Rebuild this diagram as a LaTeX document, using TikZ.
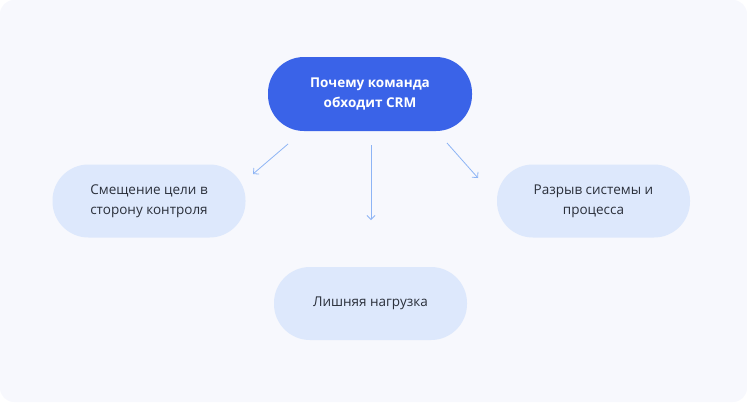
\documentclass[tikz,border=0pt]{standalone}
\usepackage{fontspec}
\setmainfont{Open Sans}
\usetikzlibrary{arrows.meta}
\definecolor{bg}{HTML}{F7F8FD}
\definecolor{main}{HTML}{3A63E8}
\definecolor{pill}{HTML}{DDE8FC}
\definecolor{arr}{HTML}{8DB4F5}
\definecolor{txt}{HTML}{2A2F3A}
\tikzset{
 pillbox/.style={rounded corners=36pt, fill=pill, minimum width=193pt, minimum height=73pt, align=center, text=txt, font=\fontsize{13.5}{20}\selectfont},
 mainbox/.style={pillbox, fill=main, text=white, minimum width=204pt, minimum height=74pt, font=\fontsize{13.5}{20}\selectfont\bfseries},
 conn/.style={draw=arr, line width=0.8pt, -{Straight Barb[length=4pt,width=8pt]}}
}
\begin{document}
\begin{tikzpicture}[x=1pt,y=-1pt]
\fill[bg, rounded corners=14pt] (0,0) rectangle (747,402);
\useasboundingbox (0,0) rectangle (747,402);
\node[mainbox] (m) at (370,94) {Почему команда\\обходит CRM};
\node[pillbox] (l) at (149,201) {Смещение цели в\\сторону контроля};
\node[pillbox] (r) at (593.5,201) {Разрыв системы и\\процесса};
\node[pillbox] (b) at (370.5,303.5) {Лишняя нагрузка};
\coordinate (a1) at (288,144); \coordinate (e1) at (253,174);
\coordinate (a2) at (371,145); \coordinate (e2) at (371,220);
\coordinate (a3) at (447,143); \coordinate (e3) at (478,178);
\draw[conn] (a1) -- (e1);
\draw[conn] (a2) -- (e2);
\draw[conn] (a3) -- (e3);
\end{tikzpicture}
\end{document}
